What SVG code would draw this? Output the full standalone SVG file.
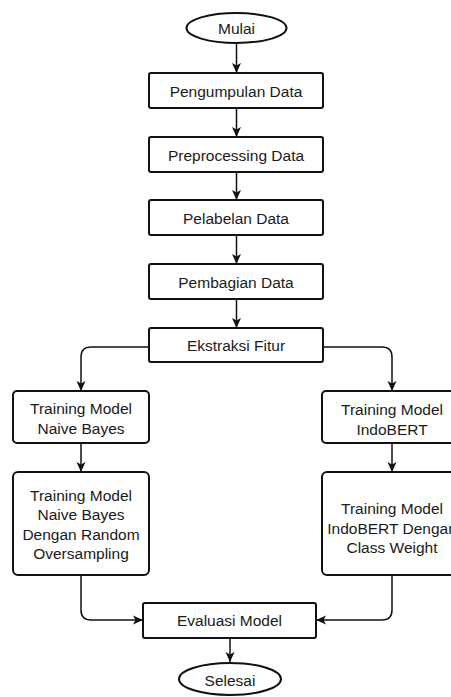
<svg xmlns="http://www.w3.org/2000/svg" width="451" height="697" viewBox="0 0 451 697">
  <style>
    .box { fill: #ffffff; stroke: #111111; stroke-width: 2; }
    .term { fill: #ffffff; stroke: #111111; stroke-width: 2; }
    .lbl { font-family: "Liberation Sans", Arial, sans-serif; font-size: 15.5px; fill: #1a1a1a; text-anchor: middle; dominant-baseline: central; }
    .edge { fill: none; stroke: #111111; stroke-width: 1.5; marker-end: url(#arrow); }
  </style>
  <defs>
    <marker id="arrow" markerUnits="userSpaceOnUse" markerWidth="10" markerHeight="10" viewBox="0 0 10 10" refX="10" refY="5" orient="auto">
      <path d="M0,0.5 L10,5 L0,9.5 L2.5,5 Z" fill="#111111"/>
    </marker>
  </defs>
  <rect width="451" height="697" fill="#ffffff"/>

  <!-- connectors -->
  <g id="connectors">
    <path class="edge" d="M236.5,43 V73"/>
    <path class="edge" d="M236.5,108 V137"/>
    <path class="edge" d="M236.5,172 V200"/>
    <path class="edge" d="M236.5,235 V264"/>
    <path class="edge" d="M236.5,299 V328"/>
    <path class="edge" d="M149,347 H91 Q81,347 81,357 V391"/>
    <path class="edge" d="M323,347 H382 Q392,347 392,357 V391"/>
    <path class="edge" d="M81,443 V472"/>
    <path class="edge" d="M392,443 V472"/>
    <path class="edge" d="M81,575 V610 Q81,620 91,620 H143"/>
    <path class="edge" d="M392,575 V610 Q392,620 382,620 H316"/>
    <path class="edge" d="M230,638 V662"/>
  </g>

  <!-- nodes -->
  <g id="mulai">
    <ellipse class="term" cx="236.5" cy="28" rx="50" ry="15"/>
    <text class="lbl" x="236.5" y="28">Mulai</text>
  </g>
  <g id="pengumpulan">
    <rect class="box" x="149" y="73" width="174" height="35" rx="2"/>
    <text class="lbl" x="236" y="91">Pengumpulan Data</text>
  </g>
  <g id="preprocessing">
    <rect class="box" x="149" y="137" width="174" height="35" rx="2"/>
    <text class="lbl" x="236" y="155">Preprocessing Data</text>
  </g>
  <g id="pelabelan">
    <rect class="box" x="149" y="200" width="174" height="35" rx="2"/>
    <text class="lbl" x="236" y="218">Pelabelan Data</text>
  </g>
  <g id="pembagian">
    <rect class="box" x="149" y="264" width="174" height="35" rx="2"/>
    <text class="lbl" x="236" y="282">Pembagian Data</text>
  </g>
  <g id="ekstraksi">
    <rect class="box" x="149" y="328" width="174" height="34" rx="2"/>
    <text class="lbl" x="236" y="345">Ekstraksi Fitur</text>
  </g>
  <g id="nb">
    <rect class="box" x="13" y="391" width="136" height="52" rx="4"/>
    <text class="lbl" x="81" y="408">Training Model</text>
    <text class="lbl" x="81" y="428">Naive Bayes</text>
  </g>
  <g id="nb-ros">
    <rect class="box" x="13" y="472" width="136" height="103" rx="5"/>
    <text class="lbl" x="81" y="495">Training Model</text>
    <text class="lbl" x="81" y="514.5">Naive Bayes</text>
    <text class="lbl" x="81" y="534">Dengan Random</text>
    <text class="lbl" x="81" y="553.5">Oversampling</text>
  </g>
  <g id="indobert">
    <rect class="box" x="322" y="391" width="140" height="52" rx="4"/>
    <text class="lbl" x="392" y="409">Training Model</text>
    <text class="lbl" x="392" y="429">IndoBERT</text>
  </g>
  <g id="indobert-cw">
    <rect class="box" x="322" y="472" width="140" height="103" rx="5"/>
    <text class="lbl" x="392" y="508">Training Model</text>
    <text class="lbl" x="392" y="528">IndoBERT Dengan</text>
    <text class="lbl" x="392" y="547.5">Class Weight</text>
  </g>
  <g id="evaluasi">
    <rect class="box" x="143" y="603" width="173" height="35" rx="2"/>
    <text class="lbl" x="229.5" y="620.5">Evaluasi Model</text>
  </g>
  <g id="selesai">
    <ellipse class="term" cx="230" cy="679" rx="51" ry="16"/>
    <text class="lbl" x="230" y="680">Selesai</text>
  </g>
</svg>
